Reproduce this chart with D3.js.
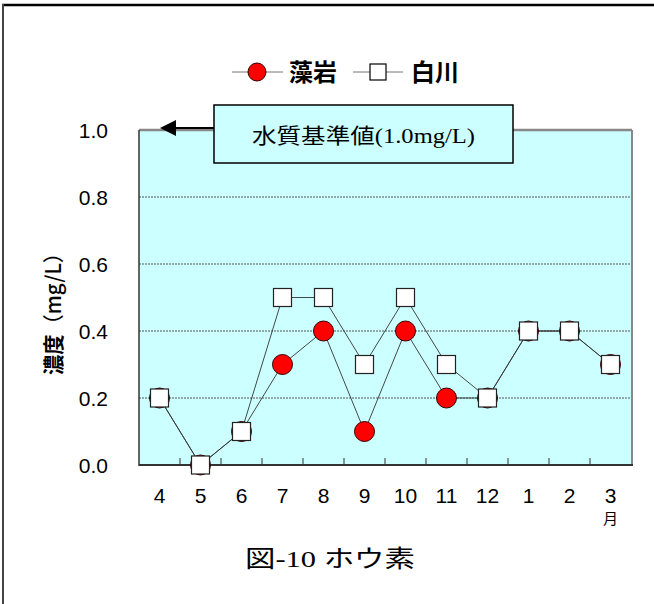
<!DOCTYPE html>
<html><head><meta charset="utf-8">
<script src="https://cdn.jsdelivr.net/npm/d3@7"></script>
<style>body{margin:0;background:#fff}svg{display:block}</style>
</head><body>
<script>
const months = ["4","5","6","7","8","9","10","11","12","1","2","3"];
const moiwa = [0.2,0.0,0.1,0.3,0.4,0.1,0.4,0.2,0.2,0.4,0.4,0.3];
const shirakawa = [0.2,0.0,0.1,0.5,0.5,0.3,0.5,0.3,0.2,0.4,0.4,0.3];
const yTicks = [0,0.2,0.4,0.6,0.8,1.0];
const seriesNames = ["藻岩","白川"];

const W=654,H=604;
const svg=d3.select("body").append("svg").attr("width",W).attr("height",H);
const L=139,R=631,T=130,B=465;
const x=d3.scaleBand().domain(months).range([L,R]);
const y=d3.scaleLinear().domain([0,1]).range([B,T]);
const sans="Arial, 'Liberation Sans', 'Noto Sans CJK JP', sans-serif";
const serif="'Liberation Serif','DejaVu Serif','Noto Sans CJK JP', serif";
const cjk="'Noto Sans CJK JP', sans-serif";

// outer frame
svg.append("line").attr("x1",2).attr("x2",W).attr("y1",5).attr("y2",5).attr("stroke","#000").attr("stroke-width",2.5);
svg.append("line").attr("x1",3).attr("x2",3).attr("y1",4).attr("y2",H).attr("stroke","#444").attr("stroke-width",2);

// plot area
svg.append("rect").attr("x",L).attr("y",T).attr("width",R-L).attr("height",B-T).attr("fill","#ccffff");
// grid
svg.append("g").selectAll("line").data(yTicks.filter(d=>d>0&&d<1)).join("line")
 .attr("x1",L).attr("x2",R).attr("y1",d=>y(d)).attr("y2",d=>y(d))
 .attr("stroke","#555").attr("stroke-width",1).attr("stroke-dasharray","2,1");
// borders
svg.append("line").attr("x1",L).attr("x2",R+1).attr("y1",T).attr("y2",T).attr("stroke","#888").attr("stroke-width",2.5);
svg.append("line").attr("x1",R+1).attr("x2",R+1).attr("y1",T).attr("y2",B).attr("stroke","#888").attr("stroke-width",2);
svg.append("line").attr("x1",L).attr("x2",L).attr("y1",T).attr("y2",B+1).attr("stroke","#333").attr("stroke-width",1.5);
svg.append("line").attr("x1",L).attr("x2",R+2).attr("y1",B).attr("y2",B).attr("stroke","#333").attr("stroke-width",2);

// x ticks (inside, at band boundaries)
svg.append("g").selectAll("line").data(months.slice(1)).join("line")
 .attr("x1",d=>x(d)).attr("x2",d=>x(d)).attr("y1",B).attr("y2",B-7)
 .attr("stroke","#333").attr("stroke-width",1);

// y labels
svg.append("g").selectAll("text").data(yTicks).join("text")
 .attr("x",108).attr("y",d=>y(d)+8).attr("text-anchor","end")
 .attr("font-family",sans).attr("font-size",21).attr("fill","#000")
 .text(d=>d.toFixed(1));
// x labels
svg.append("g").selectAll("text").data(months).join("text")
 .attr("x",d=>x(d)+x.bandwidth()/2).attr("y",503).attr("text-anchor","middle")
 .attr("font-family",sans).attr("font-size",21).attr("fill","#000").text(d=>d);
svg.append("text").attr("x",x("3")+x.bandwidth()/2).attr("y",524).attr("text-anchor","middle")
 .attr("font-family",cjk).attr("font-size",15).text("月");

// y title
const yt=svg.append("text").attr("transform","translate(61,309) rotate(-90)").attr("text-anchor","middle")
 .attr("font-family",cjk).attr("font-size",21).attr("textLength",132).attr("lengthAdjust","spacingAndGlyphs");
yt.append("tspan").attr("font-weight","bold").text("濃度");
yt.append("tspan").attr("font-weight","500").text("（mg/L）");

// lines
const line=vals=>d3.line().x((d,i)=>x(months[i])+x.bandwidth()/2).y(d=>y(d))(vals);
svg.append("path").attr("d",line(moiwa)).attr("fill","none").attr("stroke","#333").attr("stroke-width",0.9);
svg.append("path").attr("d",line(shirakawa)).attr("fill","none").attr("stroke","#333").attr("stroke-width",0.9);

// markers
svg.append("g").selectAll("circle").data(moiwa).join("circle")
 .attr("cx",(d,i)=>x(months[i])+x.bandwidth()/2).attr("cy",d=>y(d)).attr("r",10)
 .attr("fill","#ff0000").attr("stroke","#300").attr("stroke-width",1);
svg.append("g").selectAll("rect").data(shirakawa).join("rect")
 .attr("x",(d,i)=>x(months[i])+x.bandwidth()/2-9).attr("y",d=>y(d)-9).attr("width",18).attr("height",18)
 .attr("fill","#fff").attr("stroke","#222").attr("stroke-width",1.2);

// standard annotation
svg.append("line").attr("x1",172).attr("x2",214).attr("y1",128).attr("y2",128).attr("stroke","#000").attr("stroke-width",2);
svg.append("path").attr("d","M160,128 L176,120 L176,136 Z").attr("fill","#000");
svg.append("rect").attr("x",214).attr("y",105).attr("width",299).attr("height",58)
 .attr("fill","#ccffff").attr("stroke","#000").attr("stroke-width",1.5);
svg.append("text").attr("x",252).attr("y",143)
 .attr("font-family",serif).attr("font-size",21).attr("textLength",223).attr("lengthAdjust","spacingAndGlyphs")
 .text("水質基準値(1.0mg/L)");

// legend
const lg=svg.append("g");
lg.append("line").attr("x1",232).attr("x2",283).attr("y1",72).attr("y2",72).attr("stroke","#777").attr("stroke-width",1);
lg.append("circle").attr("cx",257).attr("cy",72).attr("r",9).attr("fill","#ff0000").attr("stroke","#300");
lg.append("text").attr("x",289).attr("y",81).attr("font-family",cjk).attr("font-weight","bold").attr("font-size",24).text(seriesNames[0]);
lg.append("line").attr("x1",353).attr("x2",403).attr("y1",72).attr("y2",72).attr("stroke","#777").attr("stroke-width",1);
lg.append("rect").attr("x",370).attr("y",64).attr("width",16).attr("height",16).attr("fill","#fff").attr("stroke","#000").attr("stroke-width",1.2);
lg.append("text").attr("x",411).attr("y",81).attr("font-family",cjk).attr("font-weight","bold").attr("font-size",24).text(seriesNames[1]);

// caption
svg.append("text").attr("x",245).attr("y",567)
 .attr("font-family",serif).attr("font-size",24).attr("textLength",170).attr("lengthAdjust","spacingAndGlyphs")
 .text("図-10 ホウ素");
</script>
</body></html>
